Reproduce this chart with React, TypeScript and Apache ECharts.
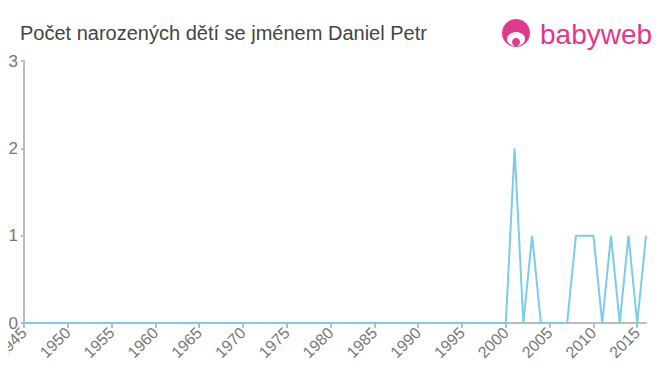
import React, { useEffect, useRef } from "react";
import * as echarts from "echarts";

const years: number[] = [];
for (let y = 1945; y <= 2016; y++) years.push(y);
const nonZero: Record<number, number> = {
  2001: 2, 2003: 1, 2008: 1, 2009: 1, 2010: 1, 2012: 1, 2014: 1, 2016: 1,
};
const counts: number[] = years.map((y) => nonZero[y] ?? 0);

export default function App() {
  const ref = useRef<HTMLDivElement>(null);
  useEffect(() => {
    const chart = echarts.init(ref.current!, undefined, { renderer: "svg" });
    chart.setOption({
      animation: false,
      title: {
        text: "Počet narozených dětí se jménem Daniel Petr",
        left: 7,
        top: 10,
        textStyle: { fontFamily: "Arial, Liberation Sans, sans-serif", fontSize: 20, fontWeight: "normal", color: "#444" },
      },
      grid: { left: 16, right: 22, top: 53, bottom: 60, containLabel: false, outerBoundsMode: "none" },
      xAxis: {
        type: "value",
        min: 1945,
        max: 2016,
        interval: 5,
        axisLine: { lineStyle: { color: "#bbb", width: 2 } },
        axisTick: { show: true, length: 5, lineStyle: { color: "#bbb", width: 2 } },
        splitLine: { show: false },
        axisLabel: {
          rotate: 45,
          color: "#777",
          fontSize: 16,
          fontFamily: "Arial, Liberation Sans, sans-serif",
          showMaxLabel: false,
          hideOverlap: false,
          margin: 7,
          formatter: (v: number) => String(v),
        },
      },
      yAxis: {
        type: "value",
        min: 0,
        max: 3,
        interval: 1,
        axisLine: { show: true, lineStyle: { color: "#bbb", width: 2 } },
        axisTick: { show: true, length: 3, lineStyle: { color: "#bbb", width: 2 } },
        splitLine: { show: false },
        axisLabel: {
          color: "#777",
          fontSize: 17,
          fontFamily: "Arial, Liberation Sans, sans-serif",
          margin: 6,
        },
      },
      series: [
        {
          type: "line",
          data: years.map((y, i) => [y, counts[i]]),
          symbol: "none",
          lineStyle: { color: "#7ccbea", width: 2 },
        },
      ],
      graphic: [
        { type: "circle", shape: { cx: 508, cy: 25, r: 14 }, style: { fill: "#e0388a" } },
        { type: "ellipse", shape: { cx: 508, cy: 31, rx: 9, ry: 7 }, style: { fill: "#fff" } },
        { type: "circle", shape: { cx: 508, cy: 34, r: 4 }, style: { fill: "#e0388a" } },
        {
          type: "text",
          x: 532,
          y: 26,
          style: {
            text: "babyweb",
            fill: "#e0388a",
            font: "28px Arial, Liberation Sans, sans-serif",
            verticalAlign: "middle",
          },
        },
      ],
    });
    return () => chart.dispose();
  }, []);
  return <div ref={ref} style={{ width: 660, height: 375 }} />;
}
